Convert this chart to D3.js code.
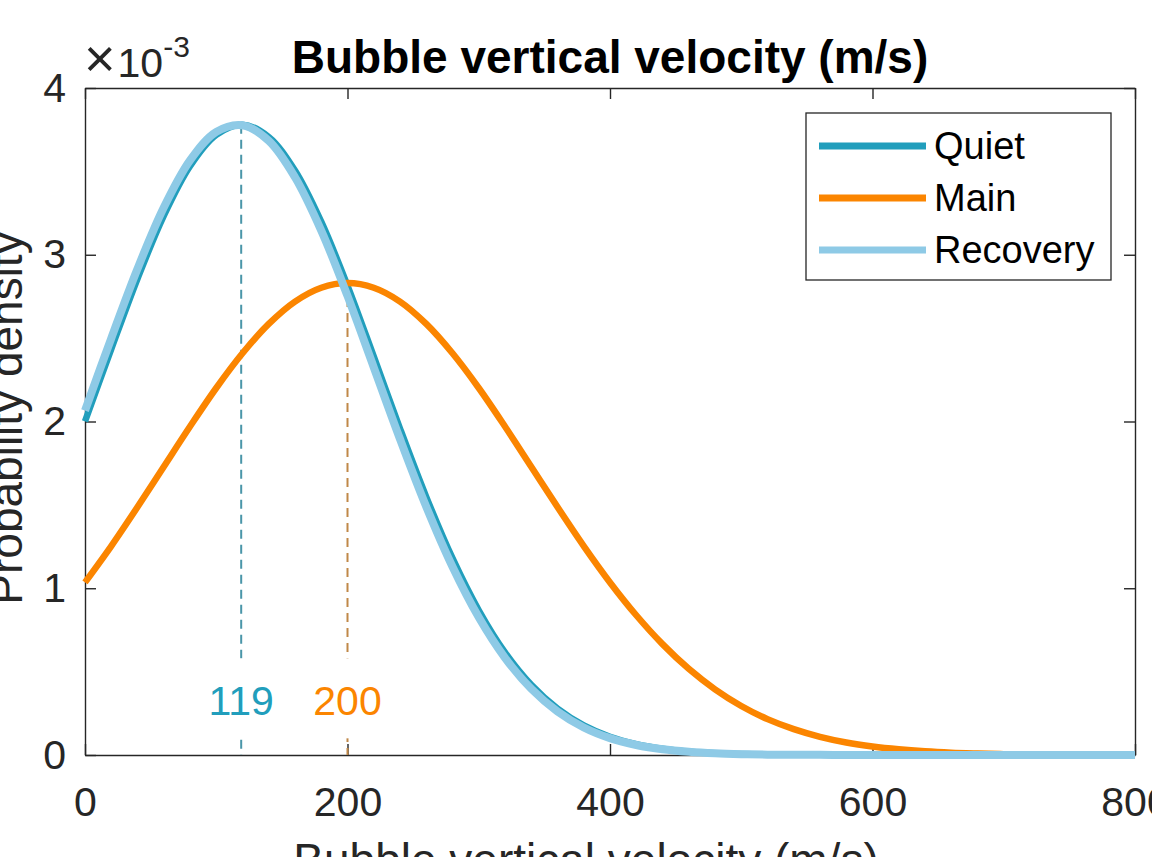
<!DOCTYPE html>
<html>
<head>
<meta charset="utf-8">
<script src="https://cdn.jsdelivr.net/npm/d3@7"></script>
<style>
  body { margin: 0; background: #fff; }
  svg { display: block; font-family: "Liberation Sans", Arial, sans-serif; }
</style>
</head>
<body>
<div id="chart"></div>
<script>
// velocity grid (m/s)
const velocity = [0, 20, 40, 60, 80, 100, 120, 140, 160, 180, 200, 220, 240, 260, 280, 300,
  320, 340, 360, 380, 400, 420, 440, 460, 480, 500, 520, 540, 560, 580, 600,
  620, 640, 660, 680, 700, 720, 740, 760, 780, 800];
// probability density (x 10^-3)
const quietDensity = [2.001, 2.434, 2.856, 3.233, 3.531, 3.719, 3.780, 3.706, 3.505, 3.198, 2.815,
  2.390, 1.958, 1.548, 1.180, 0.868, 0.615, 0.421, 0.278, 0.177, 0.109, 0.065, 0.037, 0.020,
  0.011, 0.006, 0.003, 0.001, 0.001, 0, 0, 0, 0, 0, 0, 0, 0, 0, 0, 0, 0];
const mainDensity = [1.035, 1.253, 1.487, 1.729, 1.970, 2.201, 2.409, 2.585, 2.719, 2.802, 2.830,
  2.802, 2.719, 2.585, 2.409, 2.201, 1.970, 1.729, 1.487, 1.253, 1.035, 0.838, 0.665, 0.517,
  0.394, 0.294, 0.215, 0.155, 0.109, 0.075, 0.051, 0.034, 0.022, 0.014, 0.009, 0.005, 0.003,
  0.002, 0.001, 0.001, 0.000];
const recoveryDensity = [2.065, 2.499, 2.916, 3.283, 3.566, 3.737, 3.777, 3.684, 3.465, 3.145, 2.753,
  2.325, 1.895, 1.489, 1.129, 0.826, 0.583, 0.397, 0.261, 0.165, 0.101, 0.060, 0.034, 0.019,
  0.010, 0.005, 0.002, 0.001, 0.001, 0, 0, 0, 0, 0, 0, 0, 0, 0, 0, 0, 0];

const seriesNames = ["Quiet", "Main", "Recovery"];
const seriesColors = ["#219ebc", "#fb8500", "#8ecae6"];
const seriesWidths = [6.5, 6.5, 8];
// peak markers
const peakVelocity = [119, 200];
const peakDensity = [3.78, 2.83];
const peakLabels = ["119", "200"];
const peakDashColors = ["#4a96a9", "#c08848"];

const xTicks = [0, 200, 400, 600, 800];
const yTicks = [0, 1, 2, 3, 4];

// define the dimensions and margins
const margin = {top: 88, right: 17, bottom: 102, left: 85},
  width = 1152 - margin.left - margin.right,
  height = 857 - margin.top - margin.bottom;

const svg = d3.select("#chart")
  .append("svg")
  .attr("width", 1152)
  .attr("height", 857);

const g = svg.append("g")
  .attr("transform", `translate(${margin.left},${margin.top})`);

// define scales
const x = d3.scaleLinear().domain([0, 800]).range([0, width]);
const y = d3.scaleLinear().domain([0, 4]).range([height, 0]);

const axisColor = "#262626";
const tickLen = 11;

function styleAxis(sel) {
  sel.select(".domain").attr("stroke", axisColor).attr("stroke-width", 1.4);
  sel.selectAll(".tick line").attr("stroke", axisColor).attr("stroke-width", 1.4);
  sel.selectAll(".tick text")
    .attr("fill", axisColor)
    .attr("font-size", "41px")
    .attr("font-family", "'Liberation Sans', Arial, sans-serif");
}

// bottom / left axes with labels
g.append("g")
  .attr("transform", `translate(0,${height})`)
  .call(d3.axisBottom(x).tickValues(xTicks).tickSizeInner(-tickLen).tickSizeOuter(0).tickPadding(32))
  .call(styleAxis);
g.append("g")
  .call(d3.axisLeft(y).tickValues(yTicks).tickFormat(d3.format("d"))
    .tickSizeInner(-tickLen).tickSizeOuter(0).tickPadding(19))
  .call(styleAxis);
// top / right axes (box)
g.append("g")
  .call(d3.axisTop(x).tickValues(xTicks).tickSizeInner(-tickLen).tickSizeOuter(0).tickFormat(""))
  .call(styleAxis);
g.append("g")
  .attr("transform", `translate(${width},0)`)
  .call(d3.axisRight(y).tickValues(yTicks).tickSizeInner(-tickLen).tickSizeOuter(0).tickFormat(""))
  .call(styleAxis);

// dashed peak lines with labels
peakVelocity.forEach(function(v, i) {
  g.append("line")
    .attr("x1", x(v)).attr("x2", x(v))
    .attr("y1", y(peakDensity[i])).attr("y2", y(0))
    .attr("stroke", peakDashColors[i])
    .attr("stroke-width", 2)
    .attr("stroke-dasharray", "9,6");
  g.append("rect")
    .attr("x", x(v) - 36).attr("y", y(0.58))
    .attr("width", 72).attr("height", y(0.1) - y(0.58))
    .attr("fill", "#fff");
  g.append("text")
    .attr("x", x(v))
    .attr("y", y(0.24))
    .attr("text-anchor", "middle")
    .attr("font-size", "41px")
    .attr("fill", seriesColors[i])
    .text(peakLabels[i]);
});

// curves
const densities = [quietDensity, mainDensity, recoveryDensity];
const line = d3.line()
  .x(function(d) { return x(d[0]); })
  .y(function(d) { return y(d[1]); })
  .curve(d3.curveCatmullRom.alpha(0.5));

densities.forEach(function(vals, i) {
  g.append("path")
    .datum(velocity.map(function(v, j) { return [v, vals[j]]; }))
    .attr("fill", "none")
    .attr("stroke", seriesColors[i])
    .attr("stroke-width", seriesWidths[i])
    .attr("stroke-linejoin", "round")
    .attr("d", line);
});

// legend
const legend = svg.append("g").attr("transform", "translate(806,113)");
legend.append("rect")
  .attr("width", 305).attr("height", 167)
  .attr("fill", "#fff")
  .attr("stroke", axisColor)
  .attr("stroke-width", 1.3);
seriesNames.forEach(function(name, i) {
  const ly = 33 + i * 52;
  legend.append("line")
    .attr("x1", 13).attr("x2", 120)
    .attr("y1", ly).attr("y2", ly)
    .attr("stroke", seriesColors[i])
    .attr("stroke-width", 7);
  legend.append("text")
    .attr("x", 128).attr("y", ly)
    .attr("dy", "0.35em")
    .attr("font-size", "38px")
    .attr("fill", "#000")
    .text(name);
});

// exponent label
const expo = svg.append("text")
  .attr("x", 84).attr("y", 77)
  .attr("fill", axisColor)
  .attr("font-size", "41px");
expo.append("tspan").text("\u00d7").attr("font-size", "54px").attr("font-weight", 300);
expo.append("tspan").text("10").attr("dx", 2);
expo.append("tspan").text("-3").attr("font-size", "30px").attr("dy", -20);

// chart title
svg.append("text")
  .attr("x", margin.left + width / 2)
  .attr("y", 73)
  .attr("text-anchor", "middle")
  .attr("font-weight", 700)
  .attr("font-size", "46px")
  .attr("fill", "#000")
  .text("Bubble vertical velocity (m/s)");

// x axis label
svg.append("text")
  .attr("x", 586)
  .attr("y", 876)
  .attr("text-anchor", "middle")
  .attr("font-size", "46px")
  .attr("fill", axisColor)
  .text("Bubble vertical velocity (m/s)");

// y axis label
svg.append("text")
  .attr("transform", "rotate(-90)")
  .attr("x", -418)
  .attr("y", 22)
  .attr("text-anchor", "middle")
  .attr("font-size", "46px")
  .attr("fill", axisColor)
  .text("Probability density");
</script>
</body>
</html>
